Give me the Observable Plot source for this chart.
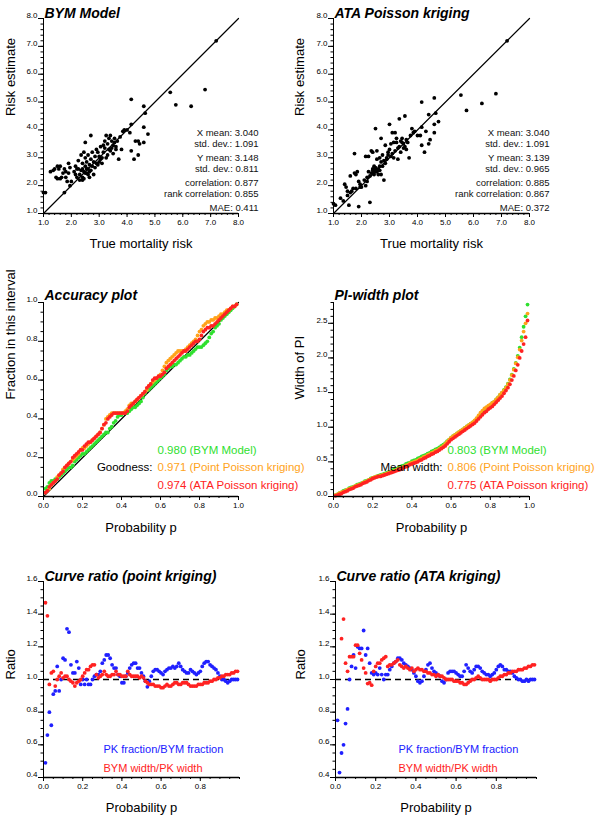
<!DOCTYPE html>
<html><head><meta charset="utf-8">
<script src="https://cdn.jsdelivr.net/npm/d3@7"></script>
<script src="https://cdn.jsdelivr.net/npm/@observablehq/plot@0.6"></script>
<style>
body{margin:0;background:#fff;}
#wrap{position:relative;width:600px;height:819px;background:#fff;overflow:hidden;}
</style></head>
<body><div id="wrap"></div>
<script>
// ---------------- DATA ----------------
// Scatter: true risk vs estimates
const trueRisk = [1.00,1.07,1.25,1.35,1.40,1.45,1.50,1.50,1.55,1.60, 1.60,1.65,1.70,1.75,1.75,1.80,1.80,1.85,1.90,1.90, 1.95,1.95,2.00,2.10,2.15,2.15,2.20,2.20,2.25,2.25, 2.30,2.30,2.35,2.35,2.40,2.40,2.40,2.40,2.45,2.45, 2.45,2.50,2.50,2.50,2.50,2.55,2.55,2.55,2.60,2.60, 2.60,2.65,2.65,2.65,2.70,2.70,2.70,2.75,2.75,2.80, 2.80,2.85,2.85,2.90,2.90,2.95,2.95,3.00,3.00,3.05, 3.05,3.10,3.10,3.15,3.15,3.20,3.20,3.25,3.25,3.30, 3.30,3.35,3.35,3.40,3.40,3.45,3.45,3.50,3.50,3.55, 3.55,3.60,3.60,3.65,3.70,3.75,3.80,3.85,3.90,4.00, 4.10,4.15,4.15,4.15,4.25,4.30,4.40,4.40,4.45,4.60, 4.60,4.65,4.60,4.75,5.55,5.75,6.30,6.80,7.20];
const bymEstimate = [1.75,1.75,2.50,2.55,2.60,2.30,2.25,2.70,2.60,2.70, 2.25,2.30,2.45,2.60,1.75,2.30,2.50,2.15,2.80,2.45, 2.00,2.65,2.15,2.50,2.70,2.40,2.60,2.30,2.90,2.60, 2.20,2.40,2.55,3.10,2.30,2.60,2.80,2.20,3.20,2.50, 2.25,2.70,3.00,3.55,2.45,2.45,2.85,2.60,2.60,3.10, 2.40,2.30,2.75,2.50,2.55,2.95,3.80,2.70,3.20,2.40, 2.85,3.05,2.65,2.80,3.30,2.75,3.20,3.05,2.85,3.40, 2.95,3.00,2.80,3.20,3.45,3.60,3.35,3.80,3.00,3.50, 3.10,3.30,3.70,3.25,3.80,3.60,3.35,3.45,3.15,3.55, 3.70,3.40,3.30,3.60,2.95,3.75,3.30,3.95,4.00,4.00, 3.90,4.20,5.10,3.25,2.95,3.60,3.10,3.60,3.50,4.10, 4.85,4.60,3.55,3.85,5.35,4.90,4.85,5.45,7.20];
const ataEstimate = [1.35,1.30,1.55,1.45,2.05,1.95,1.65,1.80,1.30,2.35, 1.75,1.80,1.90,3.15,2.45,1.90,2.40,2.50,1.25,2.15, 1.95,2.05,1.95,2.20,3.05,2.00,2.30,2.15,3.05,2.50, 1.40,2.35,3.25,2.45,2.55,3.20,2.60,2.45,2.50,2.40, 2.70,4.05,2.55,2.50,2.65,2.50,3.25,2.95,2.55,2.60, 2.40,3.00,2.55,2.70,3.70,2.85,2.40,3.10,2.70,2.20, 2.90,3.45,2.80,3.00,2.95,3.20,3.10,4.20,3.30,3.50, 3.05,3.90,3.15,3.55,3.00,3.90,3.25,3.55,3.70,2.95, 3.35,3.40,4.40,3.20,3.60,3.55,3.70,3.35,3.50,4.50, 3.40,3.65,3.30,3.55,3.00,3.80,4.05,3.90,3.95,3.80, 3.80,4.10,5.00,3.45,3.20,3.95,3.50,4.55,3.65,4.20, 5.15,4.60,3.90,4.30,5.25,4.70,4.95,5.30,7.20];

const statLabels = ["X mean", "std. dev.", "Y mean", "std. dev.", "correlation", "rank correlation", "MAE"];
const bymStats = ["3.040", "1.091", "3.148", "0.811", "0.877", "0.855", "0.411"];
const ataStats = ["3.040", "1.091", "3.139", "0.965", "0.885", "0.867", "0.372"];

// Probability levels
const probs = [0.01,0.02,0.03,0.04,0.05,0.06,0.07,0.08,0.09,0.10, 0.11,0.12,0.13,0.14,0.15,0.16,0.17,0.18,0.19,0.20, 0.21,0.22,0.23,0.24,0.25,0.26,0.27,0.28,0.29,0.30, 0.31,0.32,0.33,0.34,0.35,0.36,0.37,0.38,0.39,0.40, 0.41,0.42,0.43,0.44,0.45,0.46,0.47,0.48,0.49,0.50, 0.51,0.52,0.53,0.54,0.55,0.56,0.57,0.58,0.59,0.60, 0.61,0.62,0.63,0.64,0.65,0.66,0.67,0.68,0.69,0.70, 0.71,0.72,0.73,0.74,0.75,0.76,0.77,0.78,0.79,0.80, 0.81,0.82,0.83,0.84,0.85,0.86,0.87,0.88,0.89,0.90, 0.91,0.92,0.93,0.94,0.95,0.96,0.97,0.98,0.99];

// Accuracy plot: fraction of true values in the p-interval
const accBYM = [.04,.05,.07,.08,.08,.09,.09,.10,.11,.12, .13,.14,.15,.15,.16,.18,.19,.20,.21,.22, .22,.23,.24,.25,.26,.27,.28,.29,.30,.31, .32,.33,.33,.35,.36,.38,.39,.41,.42,.42, .43,.43,.43,.44,.45,.46,.46,.47,.48,.49, .51,.53,.55,.55,.56,.57,.58,.59,.60,.61, .62,.63,.65,.66,.67,.67,.68,.68,.69,.70, .71,.72,.72,.73,.73,.74,.75,.76,.77,.77, .77,.78,.79,.80,.82,.84,.85,.87,.88,.89, .91,.92,.93,.94,.95,.96,.97,.98,.99];
const accPK = [.02,.03,.04,.06,.07,.08,.10,.11,.12,.14, .15,.16,.17,.18,.19,.20,.21,.22,.24,.25, .25,.26,.27,.28,.29,.30,.31,.32,.33,.35, .37,.40,.41,.42,.43,.43,.43,.43,.43,.43, .43,.44,.45,.47,.48,.48,.49,.50,.51,.52, .53,.54,.55,.57,.58,.59,.60,.61,.62,.63, .65,.67,.69,.70,.71,.72,.73,.74,.75,.75, .75,.75,.76,.77,.78,.79,.80,.81,.83,.85, .86,.88,.89,.90,.90,.91,.91,.92,.92,.93, .94,.94,.95,.96,.96,.97,.98,.98,.99];
const accATA = [.02,.03,.05,.06,.07,.08,.09,.11,.12,.13, .15,.16,.17,.18,.20,.21,.22,.23,.24,.24, .26,.27,.28,.28,.29,.30,.31,.32,.33,.35, .37,.38,.40,.41,.42,.43,.43,.43,.43,.43, .43,.43,.44,.46,.47,.48,.49,.50,.51,.52, .53,.54,.56,.57,.58,.60,.61,.61,.62,.62, .63,.64,.66,.67,.68,.69,.70,.71,.72,.73, .74,.75,.75,.76,.77,.78,.79,.80,.80,.81, .83,.85,.86,.87,.87,.88,.88,.89,.90,.91, .92,.93,.94,.95,.96,.97,.98,.98,.99];
const goodness = ["0.980", "0.971", "0.974"];

// PI-width plot
const widthBYM = [.02,.03,.05,.06,.08,.09,.10,.12,.13,.14, .15,.17,.18,.19,.20,.22,.23,.24,.26,.27, .28,.29,.30,.31,.32,.33,.34,.35,.36,.38, .39,.40,.41,.43,.44,.45,.47,.48,.49,.51, .52,.53,.55,.56,.58,.59,.60,.62,.63,.65, .66,.68,.69,.71,.73,.75,.77,.80,.82,.85, .87,.89,.91,.93,.95,.97,.99,1.01,1.03,1.05, 1.07,1.09,1.12,1.15,1.19,1.22,1.25,1.28,1.30,1.32, 1.35,1.37,1.40,1.43,1.47,1.50,1.54,1.58,1.63,1.69, 1.76,1.84,1.93,2.03,2.15,2.30,2.45,2.60,2.77];
const widthPK = [.02,.03,.05,.06,.07,.08,.10,.11,.12,.13, .15,.16,.17,.18,.20,.21,.22,.24,.25,.27, .28,.29,.29,.30,.31,.32,.33,.34,.35,.36, .37,.38,.40,.41,.42,.43,.45,.46,.48,.49, .50,.51,.52,.54,.55,.57,.58,.60,.61,.63, .64,.66,.67,.69,.71,.73,.76,.79,.82,.85, .87,.89,.91,.93,.95,.97,.99,1.01,1.03,1.05, 1.07,1.10,1.13,1.17,1.21,1.24,1.27,1.29,1.31,1.33, 1.35,1.37,1.40,1.43,1.47,1.50,1.53,1.57,1.62,1.68, 1.75,1.83,1.92,2.01,2.12,2.25,2.38,2.50,2.64];
const widthATA = [.01,.02,.03,.04,.06,.07,.08,.10,.11,.12, .14,.15,.16,.17,.19,.20,.21,.23,.24,.26, .27,.28,.29,.29,.30,.31,.32,.33,.34,.35, .36,.37,.38,.39,.40,.42,.43,.44,.46,.47, .48,.49,.50,.52,.53,.55,.56,.58,.59,.61, .62,.64,.65,.67,.69,.71,.73,.76,.79,.82, .84,.86,.88,.90,.92,.94,.96,.98,1.00,1.02, 1.04,1.06,1.09,1.12,1.15,1.18,1.21,1.23,1.26,1.28, 1.30,1.33,1.36,1.39,1.42,1.45,1.49,1.53,1.57,1.62, 1.68,1.74,1.82,1.90,2.00,2.10,2.20,2.30,2.54];
const meanWidth = ["0.803", "0.806", "0.775"];
const modelNames = ["BYM Model", "Point Poisson kriging", "ATA Poisson kriging"];

// Curve ratios
const ratioFracPK = [.49,.66,.80,.72,.91,.93,1.08,.93,1.00,1.13, 1.12,1.31,1.29,1.09,1.04,1.04,1.11,1.07,.97,1.00, .97,1.00,.97,.97,1.00,1.02,1.03,1.03,1.05,1.10, 1.12,1.15,1.15,1.13,1.09,1.07,1.07,1.03,1.02,.98, .98,1.02,1.04,1.07,1.09,1.10,1.10,1.07,1.07,1.04, 1.02,.99,.955,.99,1.02,1.05,1.06,1.06,1.05,1.04, 1.03,1.05,1.06,1.07,1.07,1.08,1.07,1.08,1.10,1.08, 1.06,1.05,1.04,1.04,1.06,1.05,1.04,1.03,1.04,1.05, 1.08,1.10,1.11,1.11,1.09,1.08,1.07,1.06,1.04,1.02, 1.00,1.00,.99,.98,.99,1.00,1.00,1.00,1.00];
const ratioWidthPK = [1.47,1.39,.97,1.04,1.05,.96,1.00,1.02,1.04,1.01, 1.02,1.02,1.00,.99,.98,.96,.98,.99,1.00,1.02, 1.04,1.06,1.06,1.08,1.09,1.09,1.03,1.01,1.02,1.03, 1.05,1.03,1.02,1.02,1.03,1.03,1.05,1.03,1.03,1.02, 1.02,1.02,1.05,1.03,1.02,1.02,1.02,1.02,1.01,1.02, 1.01,.99,.98,.97,.97,.97,.96,.96,.96,.95, .95,.96,.97,.96,.96,.97,.98,.98,.97,.97, .98,.98,.98,.97,.96,.96,.96,.96,.97,.97, .97,.98,.98,.98,.99,.99,1.00,1.00,1.01,1.01, 1.02,1.02,1.03,1.03,1.03,1.04,1.04,1.05,1.05];
const ratioFracATA = [.75,.43,.55,.60,.73,.82,1.00,1.08,1.15,1.07, 1.20,1.19,1.19,1.30,1.15,1.19,1.10,1.04,1.03,1.04, 1.03,1.07,1.03,1.00,1.03,1.03,1.06,1.08,1.10,1.11, 1.13,1.13,1.12,1.10,1.09,1.08,1.07,1.06,1.04,1.02, .99,.98,.99,1.02,1.06,1.09,1.10,1.07,1.05,1.04, 1.03,1.02,.99,.98,1.00,1.04,1.05,1.05,1.05,1.04, 1.03,1.02,1.02,1.05,1.09,1.07,1.05,1.04,1.06,1.08, 1.08,1.07,1.05,1.04,1.03,1.03,1.02,1.03,1.04,1.06, 1.08,1.09,1.08,1.06,1.06,1.05,1.05,1.04,1.02,1.01, 1.00,1.00,.99,.99,1.00,.99,1.00,1.00,1.00];
const ratioWidthATA = [null,null,1.25,1.37,1.10,1.05,1.14,1.14,1.14,1.21, 1.21,1.16,1.12,1.07,1.04,.975,.98,.965,1.05,1.08, 1.10,1.10,1.12,1.13,1.14,1.08,1.09,1.09,1.10,1.11, 1.12,1.09,1.08,1.07,1.08,1.07,1.06,1.07,1.05,1.06, 1.07,1.06,1.06,1.05,1.05,1.04,1.04,1.03,1.03,1.02, 1.03,1.02,1.02,1.01,1.00,1.00,1.00,1.00,.99,.99, .99,.98,.98,.97,.97,.98,.99,1.00,1.00,1.01, 1.02,1.01,1.00,1.00,1.00,1.00,.99,1.00,1.00,1.00, 1.01,1.02,1.02,1.03,1.03,1.04,1.04,1.05,1.05,1.05, 1.06,1.06,1.06,1.07,1.07,1.08,1.08,1.09,1.09];
const ratioRef = [1];
const ratioNames = ["PK fraction/BYM fraction", "BYM width/PK width"];

// Tick labels
const riskTicks = [1, 2, 3, 4, 5, 6, 7, 8];
const unitTicks = [0, 0.2, 0.4, 0.6, 0.8, 1.0];
const ratioXTicks = [0, 0.2, 0.4, 0.6, 0.8];
const ratioYTicks = [0.4, 0.6, 0.8, 1.0, 1.2, 1.4, 1.6];
const widthTicks = [0, 0.5, 1.0, 1.5, 2.0, 2.5];

// ---------------- RENDERING ----------------
const FONT = "'Liberation Sans', Arial, Helvetica, sans-serif";
const GREEN = "#2fe02f", ORANGE = "#ffa31a", RED = "#ff2222", BLUE = "#2020ff";
const fmt1 = d3.format(".1f");
const wrap = document.getElementById("wrap");
const minor = (lo, hi, step) => d3.range(Math.round((hi - lo) / step) + 1).map(i => +(lo + i * step).toFixed(4));

function panel(o) {
  const marks = [
    ...o.marks,
    Plot.ruleX([o.xDomain[0]], {stroke: "black", strokeWidth: 1}),
    Plot.ruleY([o.yDomain[0]], {stroke: "black", strokeWidth: 1.5}),
    Plot.axisX({ticks: o.xMinor, tickSize: 2, fill: "none", label: null}),
    Plot.axisX({ticks: o.xTicks, tickSize: 4, tickPadding: 2, tickFormat: fmt1, label: null, fontSize: 8}),
    Plot.axisY({ticks: o.yMinor, tickSize: 2.5, fill: "none", label: null}),
    Plot.axisY({ticks: o.yTicks, tickSize: 5, fill: "none", label: null}),
    Plot.axisY({ticks: o.yTicks, tickSize: 0, tickPadding: 6, dy: -3, tickFormat: fmt1, label: null, fontSize: 8}),
    Plot.text([o.title], {text: d => d, frameAnchor: "top-left", dx: 1, dy: o.titleDy, textAnchor: "start", lineAnchor: "middle", fontSize: 14, fontWeight: "bold", fontStyle: "italic"}),
    Plot.text([o.xLabel], {text: d => d, frameAnchor: "bottom", dy: o.xLabelDy, lineAnchor: "middle", fontSize: 13}),
    Plot.text([o.yLabel], {text: d => d, frameAnchor: "left", dx: o.yLabelDx, rotate: -90, lineAnchor: "middle", fontSize: 13})
  ];
  const svg = Plot.plot({
    width: o.width, height: o.height,
    marginTop: o.mt, marginRight: o.mr, marginBottom: o.mb, marginLeft: o.ml,
    x: {domain: o.xDomain},
    y: {domain: o.yDomain},
    style: {fontFamily: FONT, fontSize: "8px", background: "transparent", overflow: "visible", color: "black"},
    marks
  });
  svg.style.position = "absolute";
  svg.style.left = o.left + "px";
  svg.style.top = o.top + "px";
  wrap.appendChild(svg);
}

// --- Scatter panels ---
const scatterRows = trueRisk.map((x, i) => ({x, bym: bymEstimate[i], ata: ataEstimate[i]}));
const statDy = [-81, -70, -56, -45, -31, -20, -6];
function statMarks(values) {
  return statLabels.map((lab, i) => Plot.text([`${lab}: ${values[i]}`], {
    text: d => d, frameAnchor: "bottom-right", dx: 20, dy: statDy[i],
    textAnchor: "end", lineAnchor: "middle", fontSize: 9.5, fill: "#111"
  }));
}
const riskDomain = [1, 8];
function scatterMarks(key, values) {
  return [
    Plot.line(riskDomain, {x: d => d, y: d => d, stroke: "black", strokeWidth: 1.2}),
    Plot.dot(scatterRows, {x: "x", y: key, r: 1.9, fill: "black", stroke: "none"}),
    ...statMarks(values)
  ];
}
panel({left: 0, top: 0, width: 300, height: 262, mt: 18, mr: 62, mb: 49, ml: 43,
  xDomain: riskDomain, yDomain: riskDomain, xTicks: riskTicks, yTicks: riskTicks,
  xMinor: minor(1, 8, 0.2), yMinor: minor(1, 8, 0.2),
  title: "BYM Model", titleDy: -5, xLabel: "True mortality risk", xLabelDy: 30,
  yLabel: "Risk estimate", yLabelDx: -33, marks: scatterMarks("bym", bymStats)});
panel({left: 300, top: 0, width: 300, height: 262, mt: 18, mr: 71, mb: 49, ml: 33,
  xDomain: riskDomain, yDomain: riskDomain, xTicks: riskTicks, yTicks: riskTicks,
  xMinor: minor(1, 8, 0.2), yMinor: minor(1, 8, 0.2),
  title: "ATA Poisson kriging", titleDy: -5, xLabel: "True mortality risk", xLabelDy: 30,
  yLabel: "Risk estimate", yLabelDx: -34, marks: scatterMarks("ata", ataStats)});

// --- Accuracy & PI width panels ---
const rows = probs.map((p, i) => ({p,
  accBYM: accBYM[i], accPK: accPK[i], accATA: accATA[i],
  wBYM: widthBYM[i], wPK: widthPK[i], wATA: widthATA[i],
  rfPK: ratioFracPK[i], rwPK: ratioWidthPK[i], rfATA: ratioFracATA[i], rwATA: ratioWidthATA[i]}));
const seriesColors = [GREEN, ORANGE, RED];
const legendDy = [-46, -29, -11];
function legendMarks(head, values, dxHead, dxVal) {
  return [
    Plot.text([head], {text: d => d, frameAnchor: "bottom-left", dx: dxHead, dy: legendDy[1], textAnchor: "end", lineAnchor: "middle", fontSize: 11.5, fill: "black"}),
    ...values.map((v, i) => Plot.text([`${v} (${modelNames[i]})`], {text: d => d, frameAnchor: "bottom-left", dx: dxVal, dy: legendDy[i], textAnchor: "start", lineAnchor: "middle", fontSize: 11.5, fill: seriesColors[i]}))
  ];
}
const unitDomain = [0, 1];
panel({left: 0, top: 265, width: 300, height: 275, mt: 37, mr: 62, mb: 44, ml: 43,
  xDomain: unitDomain, yDomain: unitDomain, xTicks: unitTicks, yTicks: unitTicks,
  xMinor: minor(0, 1, 0.05), yMinor: minor(0, 1, 0.05),
  title: "Accuracy plot", titleDy: -7, xLabel: "Probability p", xLabelDy: 31,
  yLabel: "Fraction in this interval", yLabelDx: -33,
  marks: [
    Plot.line(unitDomain, {x: d => d, y: d => d, stroke: "black", strokeWidth: 1.2}),
    Plot.dot(rows, {x: "p", y: "accBYM", r: 1.9, fill: GREEN, stroke: "none"}),
    Plot.dot(rows, {x: "p", y: "accPK", r: 1.9, fill: ORANGE, stroke: "none"}),
    Plot.dot(rows, {x: "p", y: "accATA", r: 1.9, fill: RED, stroke: "none"}),
    ...legendMarks("Goodness:", goodness, 109, 114)
  ]});
panel({left: 300, top: 265, width: 300, height: 275, mt: 37, mr: 71, mb: 44, ml: 33,
  xDomain: unitDomain, yDomain: [0, 2.8], xTicks: unitTicks, yTicks: widthTicks,
  xMinor: minor(0, 1, 0.05), yMinor: minor(0, 2.8, 0.1),
  title: "PI-width plot", titleDy: -7, xLabel: "Probability p", xLabelDy: 31,
  yLabel: "Width of PI", yLabelDx: -34,
  marks: [
    Plot.dot(rows, {x: "p", y: "wBYM", r: 1.9, fill: GREEN, stroke: "none"}),
    Plot.dot(rows, {x: "p", y: "wPK", r: 1.9, fill: ORANGE, stroke: "none"}),
    Plot.dot(rows, {x: "p", y: "wATA", r: 1.9, fill: RED, stroke: "none"}),
    ...legendMarks("Mean width:", meanWidth, 109, 114)
  ]});

// --- Curve ratio panels ---
const ratioDomain = [0.4, 1.6];
function ratioMarks(fk, wk, dxLegend) {
  return [
    Plot.ruleY(ratioRef, {stroke: "black", strokeWidth: 1.5, strokeDasharray: "6,4"}),
    Plot.dot(rows, {x: "p", y: fk, r: 1.9, fill: BLUE, stroke: "none"}),
    Plot.dot(rows, {x: "p", y: wk, r: 1.9, fill: RED, stroke: "none"}),
    Plot.text([ratioNames[0]], {text: d => d, frameAnchor: "bottom-left", dx: dxLegend, dy: -28, textAnchor: "start", lineAnchor: "middle", fontSize: 11, fill: BLUE}),
    Plot.text([ratioNames[1]], {text: d => d, frameAnchor: "bottom-left", dx: dxLegend, dy: -9, textAnchor: "start", lineAnchor: "middle", fontSize: 11, fill: RED})
  ];
}
panel({left: 0, top: 540, width: 300, height: 279, mt: 41, mr: 61, mb: 42, ml: 43,
  xDomain: unitDomain, yDomain: ratioDomain, xTicks: ratioXTicks, yTicks: ratioYTicks,
  xMinor: minor(0, 1, 0.05), yMinor: minor(0.4, 1.6, 0.05),
  title: "Curve ratio (point kriging)", titleDy: -5, xLabel: "Probability p", xLabelDy: 30,
  yLabel: "Ratio", yLabelDx: -33, marks: ratioMarks("rfPK", "rwPK", 60)});
panel({left: 300, top: 540, width: 300, height: 279, mt: 41, mr: 64, mb: 42, ml: 35,
  xDomain: unitDomain, yDomain: ratioDomain, xTicks: ratioXTicks, yTicks: ratioYTicks,
  xMinor: minor(0, 1, 0.05), yMinor: minor(0.4, 1.6, 0.05),
  title: "Curve ratio (ATA kriging)", titleDy: -5, xLabel: "Probability p", xLabelDy: 30,
  yLabel: "Ratio", yLabelDx: -35, marks: ratioMarks("rfATA", "rwATA", 63)});
</script>
</body></html>
